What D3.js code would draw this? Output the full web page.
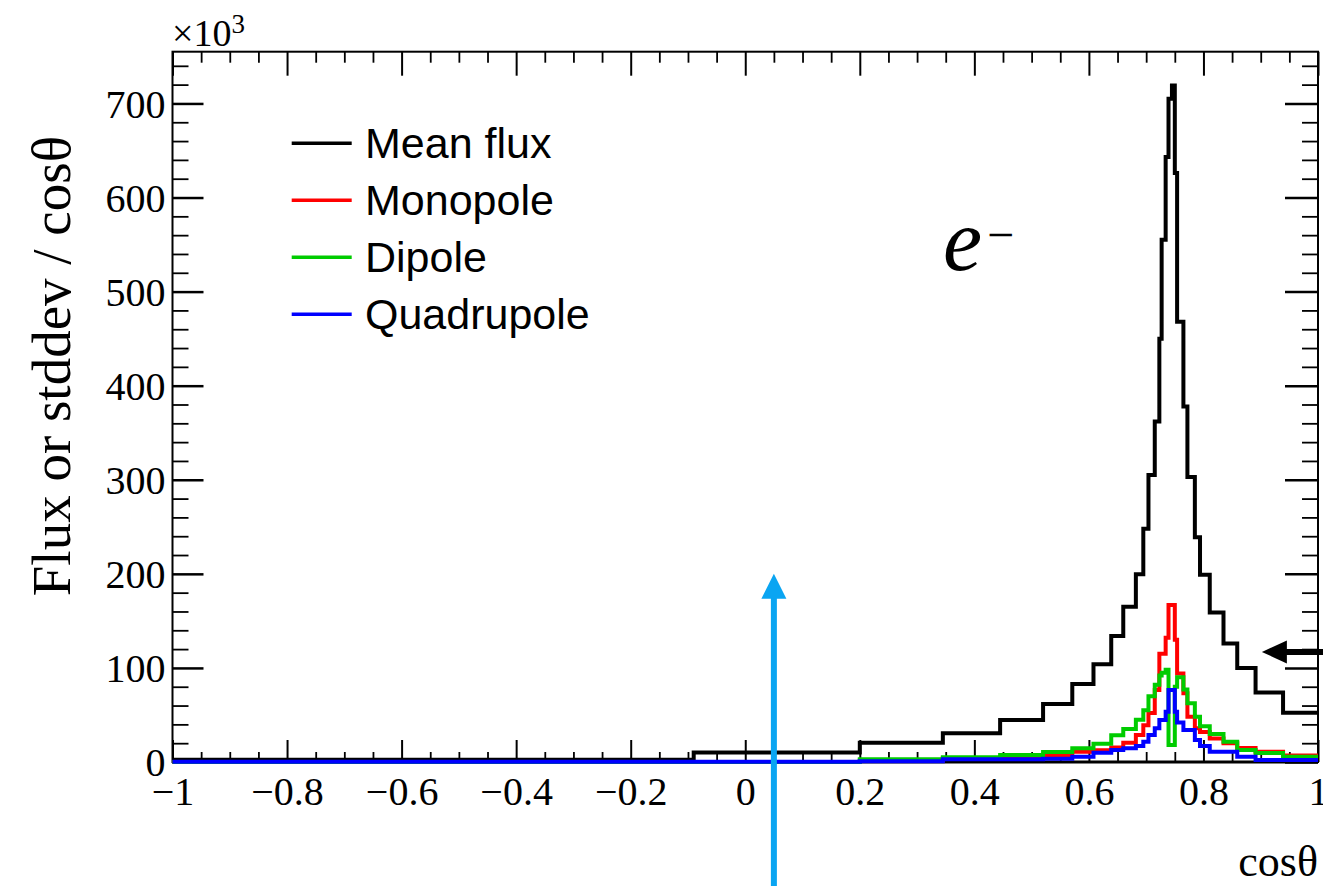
<!DOCTYPE html>
<html>
<head>
<meta charset="utf-8">
<script src="https://cdn.jsdelivr.net/npm/d3@7"></script>
<style>
  html, body { margin: 0; padding: 0; background: #fff; }
  #chart { width: 1323px; height: 886px; overflow: hidden; }
</style>
</head>
<body>
<div id="chart"></div>
<script>
// bin edges in cos(theta), shared by all four histograms
const binEdges = [-1, -0.09, 0.2, 0.345, 0.445, 0.52, 0.571, 0.608, 0.639, 0.660, 0.682,
    0.695, 0.704, 0.715, 0.723, 0.727, 0.734, 0.739, 0.745, 0.750, 0.754,
    0.765, 0.772, 0.785, 0.794, 0.811, 0.835, 0.859, 0.891, 0.939, 1];

// values in units of 10^3
const meanFlux = [2.5, 10, 20.5, 30.5, 44.6, 61.6, 83, 104, 134, 165, 199.5, 248, 305, 362, 450,
    555, 643, 705, 719, 626, 468, 378, 303, 239, 199, 159, 126, 100, 74, 52.4];
const monopole = [0, 0, 1.5, 4, 5, 7.4, 11, 12.5, 15.5, 20.5, 28.7, 39, 52, 76.5, 115,
    115, 132, 167, 167, 130, 94, 73, 48, 36, 32, 25, 20, 15, 11, 7];
const dipole = [0, 0, 2.8, 5, 7.4, 10.5, 14.5, 19.5, 28.5, 35, 45, 55, 70, 82, 92,
    95, 98, 18, 18, 80, 90, 77, 62.5, 48, 38, 29.8, 21.6, 12.8, 9.5, 5.6];
const quadrupole = [0.3, 0.3, 0.8, 3, 3, 3.5, 5.6, 9.9, 12.8, 14.5, 17, 21.6, 28.7, 35.8, 44.6,
    44.6, 53.5, 76.5, 76.5, 53.5, 42, 34, 34, 23.4, 17, 11, 11, 5.6, 2, 2];

const seriesNames = ["Mean flux", "Monopole", "Dipole", "Quadrupole"];
const seriesColors = ["#000000", "#ff0000", "#00cc00", "#0000ff"];
const seriesValues = [meanFlux, monopole, dipole, quadrupole];

const xTicks = [-1, -0.8, -0.6, -0.4, -0.2, 0, 0.2, 0.4, 0.6, 0.8, 1];
const yTicks = [0, 100, 200, 300, 400, 500, 600, 700];

// arrows drawn on the plot (data coordinates of the tip)
const blueArrow = { x: 0.05, y: 200 };
const blackArrow = { x: 0.902, y: 117 };

const margin = { top: 51.7, right: 5, bottom: 124, left: 172.5 };
const width = 1323 - margin.left - margin.right;
const height = 886 - margin.top - margin.bottom;

const svgRoot = d3.select("#chart")
    .append("svg")
    .attr("width", 1323)
    .attr("height", 886);

const svg = svgRoot.append("g")
    .attr("transform", `translate(${margin.left},${margin.top})`);

const x = d3.scaleLinear().domain([-1, 1]).range([0, width]);
const y = d3.scaleLinear().domain([0, 755]).range([height, 0]);

const serif = "'Liberation Serif', 'Times New Roman', serif";
const sans = "'Liberation Sans', Arial, Helvetica, sans-serif";

// minor ticks
function minorAxis(axisGen, values, size) {
    return axisGen.tickValues(values).tickFormat("").tickSizeInner(-size).tickSizeOuter(0);
}
const xMinor = d3.range(-1, 1.0001, 0.05).filter(v => Math.abs(Math.round(v * 5) - v * 5) > 1e-6);
const yMinor = d3.range(0, 755, 20).filter(v => v % 100 !== 0);

function styleTicks(g, w) {
    g.select(".domain").remove();
    g.selectAll(".tick line").attr("stroke", "#000").attr("stroke-width", w);
}

svg.append("g").attr("transform", `translate(0,${height})`)
    .call(minorAxis(d3.axisBottom(x), xMinor, 10)).call(g => styleTicks(g, 1.8));
svg.append("g")
    .call(minorAxis(d3.axisTop(x), xMinor, 11)).call(g => styleTicks(g, 1.8));
svg.append("g")
    .call(minorAxis(d3.axisLeft(y), yMinor, 16)).call(g => styleTicks(g, 1.8));
svg.append("g").attr("transform", `translate(${width},0)`)
    .call(minorAxis(d3.axisRight(y), yMinor, 16)).call(g => styleTicks(g, 1.8));

// major ticks + labels
const xAxis = svg.append("g")
    .attr("transform", `translate(0,${height})`)
    .call(d3.axisBottom(x).tickValues(xTicks).tickFormat(d3.format("")).tickSizeInner(-22).tickSizeOuter(0).tickPadding(15));
xAxis.call(g => styleTicks(g, 2));
xAxis.selectAll("text").style("font-family", serif).style("font-size", "40px").attr("fill", "#000");

svg.append("g")
    .call(d3.axisTop(x).tickValues(xTicks).tickFormat("").tickSizeInner(-24).tickSizeOuter(0))
    .call(g => styleTicks(g, 2));

const yAxis = svg.append("g")
    .call(d3.axisLeft(y).tickValues(yTicks).tickFormat(d3.format("d")).tickSizeInner(-31).tickSizeOuter(0).tickPadding(7));
yAxis.call(g => styleTicks(g, 2.5));
yAxis.selectAll("text").style("font-family", serif).style("font-size", "40px").attr("fill", "#000")
    .attr("dy", "0.34em");

svg.append("g").attr("transform", `translate(${width},0)`)
    .call(d3.axisRight(y).tickValues(yTicks).tickFormat("").tickSizeInner(-33).tickSizeOuter(0))
    .call(g => styleTicks(g, 2.5));

// frame
svg.append("rect")
    .attr("x", 0).attr("y", 0)
    .attr("width", width).attr("height", height)
    .attr("fill", "none")
    .attr("stroke", "#000")
    .attr("stroke-width", 2);
svg.append("line")
    .attr("x1", 0).attr("x2", width)
    .attr("y1", height).attr("y2", height)
    .attr("stroke", "#000").attr("stroke-width", 3);

// histograms as steps
const line = d3.line().x(d => x(d[0])).y(d => y(d[1]));
function stepPoints(vals) {
    const pts = [];
    vals.forEach((v, i) => {
        pts.push([binEdges[i], v]);
        pts.push([binEdges[i + 1], v]);
    });
    return pts;
}

seriesValues.forEach((vals, i) => {
    svg.append("path")
        .attr("d", line(stepPoints(vals)))
        .attr("fill", "none")
        .attr("stroke", seriesColors[i])
        .attr("stroke-width", 4)
        .attr("stroke-linejoin", "miter");
});

// legend
const legend = svg.append("g");
seriesNames.forEach((name, i) => {
    const ly = 143.3 - margin.top + i * 57;
    legend.append("line")
        .attr("x1", 291.7 - margin.left).attr("x2", 351.7 - margin.left)
        .attr("y1", ly).attr("y2", ly)
        .attr("stroke", seriesColors[i])
        .attr("stroke-width", 3.5);
    legend.append("text")
        .attr("x", 365 - margin.left)
        .attr("y", ly)
        .attr("dy", "0.35em")
        .style("font-family", sans)
        .style("font-size", "43px")
        .text(name);
});

// particle label
svg.append("text")
    .attr("x", 943 - margin.left)
    .attr("y", 270 - margin.top)
    .style("font-family", serif)
    .style("font-style", "italic")
    .style("font-size", "88px")
    .text("e");
svg.append("text")
    .attr("x", 987 - margin.left)
    .attr("y", 251 - margin.top)
    .style("font-family", serif)
    .style("font-size", "48px")
    .text("\u2212");

// axis titles
svgRoot.append("text")
    .attr("transform", "translate(70,136) rotate(-90)")
    .attr("text-anchor", "end")
    .style("font-family", serif)
    .style("font-size", "55px")
    .text("Flux or stddev / cos\u03b8");

svgRoot.append("text")
    .attr("x", 1318)
    .attr("y", 876)
    .attr("text-anchor", "end")
    .style("font-family", serif)
    .style("font-size", "44px")
    .text("cos\u03b8");

const mult = svgRoot.append("text")
    .attr("x", 172)
    .attr("y", 46)
    .style("font-family", serif)
    .style("font-size", "38px");
mult.append("tspan").text("\u00d710");
mult.append("tspan").attr("dy", -13).style("font-size", "27px").text("3");

// arrows
const ax = x(blueArrow.x), ay = y(blueArrow.y);
svg.append("line")
    .attr("x1", ax).attr("x2", ax)
    .attr("y1", ay + 20).attr("y2", 886 - margin.top)
    .attr("stroke", "#0aa5f2").attr("stroke-width", 6);
svg.append("path")
    .attr("d", `M${ax},${ay} L${ax - 12.5},${ay + 25} L${ax + 12.5},${ay + 25} Z`)
    .attr("fill", "#0aa5f2");

const bx = x(blackArrow.x), by = y(blackArrow.y);
svgRoot.append("line")
    .attr("x1", margin.left + bx + 20).attr("x2", 1323)
    .attr("y1", margin.top + by).attr("y2", margin.top + by)
    .attr("stroke", "#000").attr("stroke-width", 6);
svgRoot.append("path")
    .attr("d", `M${margin.left + bx},${margin.top + by} L${margin.left + bx + 25},${margin.top + by - 11.5} L${margin.left + bx + 25},${margin.top + by + 11.5} Z`)
    .attr("fill", "#000");
</script>
</body>
</html>
